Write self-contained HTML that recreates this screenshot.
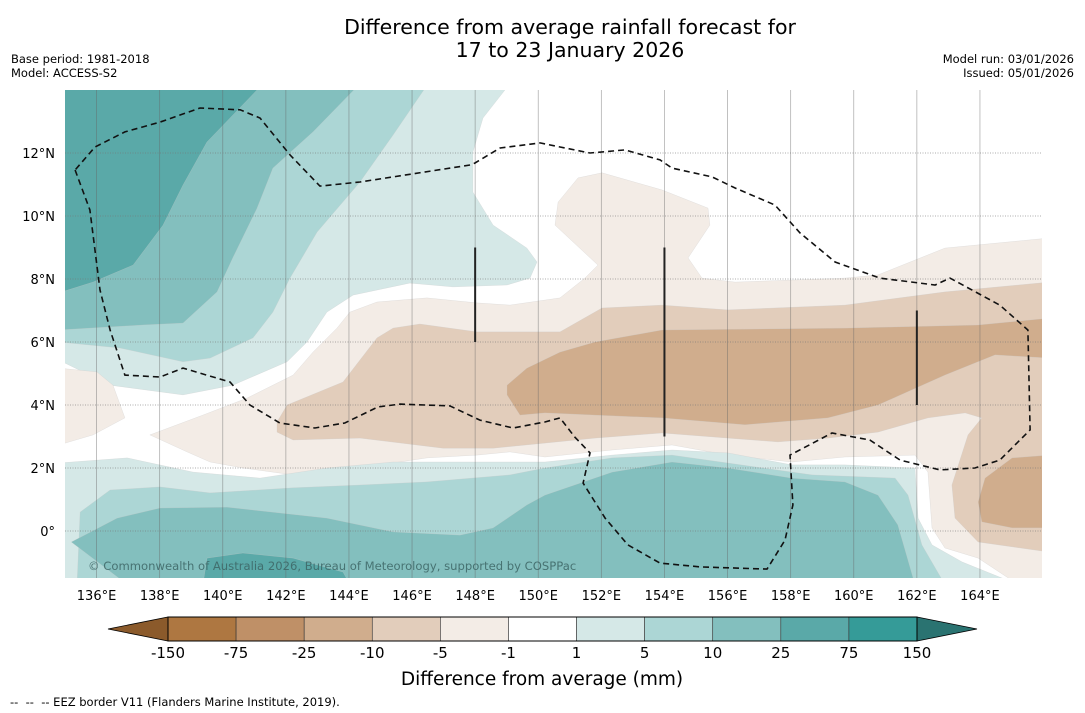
<!DOCTYPE html>
<html><head><meta charset="utf-8">
<style>
html,body{margin:0;padding:0;background:#fff;}
body{width:1085px;height:713px;overflow:hidden;font-family:"DejaVu Sans","Liberation Sans",sans-serif;}
svg{display:block}
</style></head>
<body>
<svg id="chart" width="1085" height="713" viewBox="0 0 1085 713" xmlns="http://www.w3.org/2000/svg" font-family="DejaVu Sans, Liberation Sans, sans-serif">
  <text x="570" y="34" font-size="20.5" text-anchor="middle" fill="#000">Difference from average rainfall forecast for</text>
  <text x="570" y="57" font-size="20.5" text-anchor="middle" fill="#000">17 to 23 January 2026</text>
  <text x="11" y="63" font-size="11.5">Base period: 1981-2018</text>
  <text x="11" y="77" font-size="11.5">Model: ACCESS-S2</text>
  <text x="1074" y="63" font-size="11.5" text-anchor="end">Model run: 03/01/2026</text>
  <text x="1074" y="77" font-size="11.5" text-anchor="end">Issued: 05/01/2026</text>
  <defs><clipPath id="mapclip"><rect x="65" y="90" width="977" height="488"/></clipPath></defs>
  <g id="map" clip-path="url(#mapclip)"></g>
  <g id="axes"></g>
  <g id="cbar"></g>
  <text x="542" y="685" font-size="18.5" text-anchor="middle">Difference from average (mm)</text>
  <text x="10" y="706" font-size="11.5" xml:space="preserve" style="white-space:pre">--  --  -- EEZ border V11 (Flanders Marine Institute, 2019).</text>
</svg>
<script>
// ---- data (lon, lat) ----
const xTicks = [136,138,140,142,144,146,148,150,152,154,156,158,160,162,164];
const yTicks = [0,2,4,6,8,10,12];
const cbarLabels = ["-150","-75","-25","-10","-5","-1","1","5","10","25","75","150"];
const cbarColors = ["#ae7741","#bf9067","#d0ad8d","#e2cdbb","#f3ece6","#ffffff","#d5e8e7","#acd6d5","#83bfbe","#5aa9a8","#359b98"];
const t1 = [[135,14.2],[149.10,14.2],[148.25,13.11],[147.93,12.03],[147.93,10.76],[148.57,9.71],[149.64,8.98],[149.96,8.54],[149.74,8.03],[149.01,7.81],[147.30,7.75],[145.93,7.87],[144.13,7.49],[143.30,6.95],[142.67,6.0],[142.04,5.37],[140.32,4.63],[138.74,4.32],[136.43,4.63],[134.8,5.43]];
const t2 = [[135,14.2],[146.51,14.2],[145.40,12.57],[144.35,11.08],[142.99,9.49],[142.13,8.03],[141.59,6.95],[140.96,6.13],[139.60,5.49],[138.74,5.37],[136.74,5.81],[134.8,6.0]];
const t3 = [[135,14.2],[144.35,14.2],[142.86,12.67],[141.59,11.52],[141.09,10.25],[140.32,8.67],[139.82,7.59],[138.74,6.60],[137.47,6.54],[134.8,6.38]];
const t4 = [[135,14.2],[141.28,14.2],[139.5,12.35],[138.74,10.98],[138.11,9.71],[137.16,8.44],[135.89,7.90],[134.8,7.56]];
const b1Left = [[134.8,5.17],[136.01,5.05],[136.52,4.63],[136.90,3.59],[135.89,3.05],[134.8,2.73]];
const b1 = [[137.69,3.05],[139.37,3.68],[140.77,4.22],[142.23,4.95],[142.86,5.68],[143.62,6.44],[144.03,6.95],[144.89,7.27],[146.47,7.40],[148.06,7.24],[149.10,7.17],[150.69,7.40],[151.48,8.03],[151.89,8.44],[150.53,9.71],[150.63,10.44],[151.26,11.21],[152.02,11.37],[153.92,10.83],[155.38,10.25],[155.44,9.71],[154.75,8.67],[155.19,8.03],[156.24,7.90],[159.72,8.03],[160.77,8.13],[162.89,8.98],[166.2,9.30],[166.2,-1.7],[165.21,-1.7],[163.94,-0.86],[162.89,-0.54],[162.48,0.10],[162.35,1.87],[161.94,2.41],[159.72,2.35],[158.04,2.19],[156.01,2.41],[154.24,2.73],[152.34,2.57],[150.21,2.35],[149.10,2.51],[148.06,2.41],[146.47,2.32],[144.35,2.0],[142.23,1.78],[140.64,2.0],[139.60,2.19],[138.87,2.51]];
const b2 = [[141.72,3.14],[141.72,3.46],[142.04,4.0],[143.81,4.73],[144.89,6.13],[145.40,6.44],[146.25,6.57],[148.06,6.32],[150.69,6.32],[152.02,7.08],[153.92,7.17],[156.01,7.02],[159.72,7.17],[162.89,7.59],[166.2,7.90],[166.2,-0.67],[163.94,-0.35],[163.21,0.41],[163.11,1.46],[163.62,3.05],[164.06,3.59],[163.53,3.75],[162.35,3.59],[160.77,3.14],[159.18,2.95],[157.6,2.83],[156.01,2.95],[153.92,3.11],[151.8,2.95],[150.21,2.79],[148.57,2.63],[146.98,2.63],[144.35,2.95],[142.23,2.89]];
const b3 = [[149.01,4.63],[149.64,5.17],[150.69,5.68],[151.8,6.0],[153.92,6.38],[159.72,6.44],[163.94,6.54],[166.2,6.76],[166.2,5.49],[164.48,5.59],[162.89,4.95],[160.77,4.0],[159.18,3.59],[156.55,3.37],[153.92,3.59],[151.8,3.68],[150.21,3.75],[149.42,3.68],[149.01,4.32]];
const b3b = [[166.2,2.41],[165.02,2.32],[164.16,1.68],[163.94,0.92],[164.06,0.29],[165.02,0.10],[166.2,0.10]];
const bt1 = [[134.8,2.16],[136.97,2.32],[139.06,1.87],[141.18,1.68],[143.3,2.0],[145.4,2.19],[147.52,2.19],[150.21,2.19],[152.34,2.41],[154.24,2.57],[156.01,2.48],[158.04,2.10],[159.72,2.10],[161.94,2.0],[162.04,0.41],[162.48,-0.44],[163.43,-0.98],[165.21,-1.7],[134.8,-1.7]];
const bt2 = [[135.38,-1.7],[135.48,0.60],[136.43,1.30],[138.01,1.40],[139.6,1.21],[142.23,1.37],[144.35,1.46],[146.47,1.56],[149.10,1.78],[150.21,2.0],[152.34,2.32],[154.24,2.41],[156.01,2.16],[158.68,1.78],[161.31,1.68],[161.72,1.14],[162.16,-0.44],[162.89,-1.7]];
const bt3 = [[136.97,-1.7],[135.2,-0.35],[136.65,0.41],[138.01,0.73],[140.13,0.76],[143.3,0.41],[145.4,-0.03],[147.52,-0.13],[148.57,0.10],[149.64,0.83],[150.21,1.14],[152.34,1.87],[154.24,2.19],[156.01,2.0],[158.04,1.68],[159.72,1.56],[160.77,1.14],[161.4,0.19],[161.94,-1.7]];
const bt4 = [[139.37,-1.7],[139.5,-0.86],[140.64,-0.70],[142.23,-0.86],[143.81,-1.30],[144.03,-1.7]];
const eez = [[135.32,11.46],[135.79,10.19],[136.11,7.65],[136.43,6.38],[136.9,4.95],[138.01,4.89],[138.74,5.17],[140.23,4.73],[140.86,4.0],[141.81,3.43],[142.92,3.27],[143.87,3.43],[144.92,3.94],[145.62,4.03],[147.2,3.97],[148.15,3.52],[149.2,3.27],[150.21,3.46],[150.69,3.59],[151.16,2.98],[151.64,2.48],[151.42,1.52],[152.12,0.41],[152.84,-0.44],[153.86,-1.02],[155.13,-1.14],[157.25,-1.21],[157.82,-0.29],[158.07,0.83],[157.98,2.41],[159.31,3.11],[160.51,2.89],[161.47,2.25],[162.73,1.94],[163.84,2.0],[164.63,2.25],[165.59,3.21],[165.52,6.38],[164.63,7.17],[163.05,8.03],[162.58,7.81],[160.83,8.03],[159.41,8.54],[158.3,9.46],[157.5,10.35],[156.24,10.89],[155.51,11.24],[154.24,11.52],[153.86,11.78],[152.75,12.10],[151.64,12.0],[150.69,12.19],[150.06,12.32],[148.79,12.16],[147.99,11.68],[147.84,11.62],[144.35,11.08],[143.08,10.95],[142.13,11.94],[141.18,13.11],[140.55,13.37],[139.28,13.43],[138.01,12.98],[136.9,12.67],[135.95,12.19],[135.32,11.46]];
const barLon = [148,154,162];
const barTop = [9,9,7];
const barBot = [6,3,4];

// ---- axes ----
const X = lon => 65 + (lon - 135) * 31.55;
const Y = lat => 90 + (14 - lat) * 31.5;
const NS = "http://www.w3.org/2000/svg";
function mk(tag, attrs, parent){
  const e = document.createElementNS(NS, tag);
  for (const k in attrs) e.setAttribute(k, attrs[k]);
  parent.appendChild(e); return e;
}
const map = document.getElementById('map');
const axes = document.getElementById('axes');
const cbar = document.getElementById('cbar');
mk('rect',{x:65,y:90,width:977,height:488,fill:'#ffffff'},map);
function poly(pts, fill, name){
  const d = pts.map(p => X(p[0]).toFixed(1)+','+Y(p[1]).toFixed(1)).join(' ');
  const el = mk('polygon',{points:d, fill:fill, stroke:'#c8c8c8', 'stroke-width':0.4, 'stroke-opacity':0.6},map);
  
  
}
poly(t1,'#d5e8e7','contour-1-to-5-north');
poly(t2,'#acd6d5','contour-5-to-10-north');
poly(t3,'#83bfbe','contour-10-to-25-north');
poly(t4,'#5aa9a8','contour-25-to-75-north');
poly(b1Left,'#f3ece6','contour-minus1-west');
poly(b1,'#f3ece6','contour-minus1-to-minus5');
poly(b2,'#e2cdbb','contour-minus5-to-minus10');
poly(b3,'#d0ad8d','contour-minus10-to-minus25');
poly(b3b,'#d0ad8d','contour-minus10-to-minus25-east');
poly(bt1,'#d5e8e7','contour-1-to-5-south');
poly(bt2,'#acd6d5','contour-5-to-10-south');
poly(bt3,'#83bfbe','contour-10-to-25-south');
poly(bt4,'#5aa9a8','contour-25-to-75-south');

// gridlines
xTicks.forEach(lon => {
  const g = mk('line',{x1:X(lon),x2:X(lon),y1:90,y2:578,stroke:'#666','stroke-width':0.8,'stroke-opacity':0.5},map);
  
  
});
yTicks.forEach(lat => {
  const g = mk('line',{x1:65,x2:1042,y1:Y(lat),y2:Y(lat),stroke:'#777','stroke-width':0.8,'stroke-dasharray':'1,1.5','stroke-opacity':0.8},map);
  
  
});
// eez
const ez = mk('polyline',{points:eez.map(p=>X(p[0]).toFixed(1)+','+Y(p[1]).toFixed(1)).join(' '),fill:'none',stroke:'#111','stroke-width':1.6,'stroke-dasharray':'6,4'},map);


barLon.forEach((lon,i) => {
  const b = mk('line',{x1:X(lon),x2:X(lon),y1:Y(barTop[i]),y2:Y(barBot[i]),stroke:'#222','stroke-width':2},map);
  
  
});
const cr = mk('text',{x:88,y:570,'font-size':11.6,fill:'#3d6565','fill-opacity':0.85},map);
cr.textContent = '© Commonwealth of Australia 2026, Bureau of Meteorology, supported by COSPPac';



// tick labels
xTicks.forEach(lon => {
  const t = mk('text',{x:X(lon),y:600,'font-size':13,'text-anchor':'middle'},axes);
  t.textContent = lon + '°E';
  
  
});
yTicks.forEach(lat => {
  const t = mk('text',{x:55,y:Y(lat)+5,'font-size':13,'text-anchor':'end'},axes);
  t.textContent = lat === 0 ? '0°' : lat + '°N';
  
  
});

// colorbar
const cx0 = 168, cw = (917 - 168) / cbarColors.length, cy = 617, ch = 24;
const lt = mk('polygon',{points:`108,${cy+ch/2} ${cx0},${cy} ${cx0},${cy+ch}`,fill:'#8b5a2b',stroke:'#000','stroke-width':0.8},cbar);


cbarColors.forEach((c,i) => {
  const r = mk('rect',{x:cx0+i*cw,y:cy,width:cw,height:ch,fill:c,stroke:'#333','stroke-width':0.6},cbar);
  
  
});
const rt = mk('polygon',{points:`917,${cy} 977,${cy+ch/2} 917,${cy+ch}`,fill:'#2a7371',stroke:'#000','stroke-width':0.8},cbar);


mk('rect',{x:cx0,y:cy,width:917-cx0,height:ch,fill:'none',stroke:'#000','stroke-width':1},cbar);
cbarLabels.forEach((l,i) => {
  const t = mk('text',{x:cx0+i*cw,y:658,'font-size':15,'text-anchor':'middle'},cbar);
  t.textContent = l;
  
  
});
</script>
</body></html>
